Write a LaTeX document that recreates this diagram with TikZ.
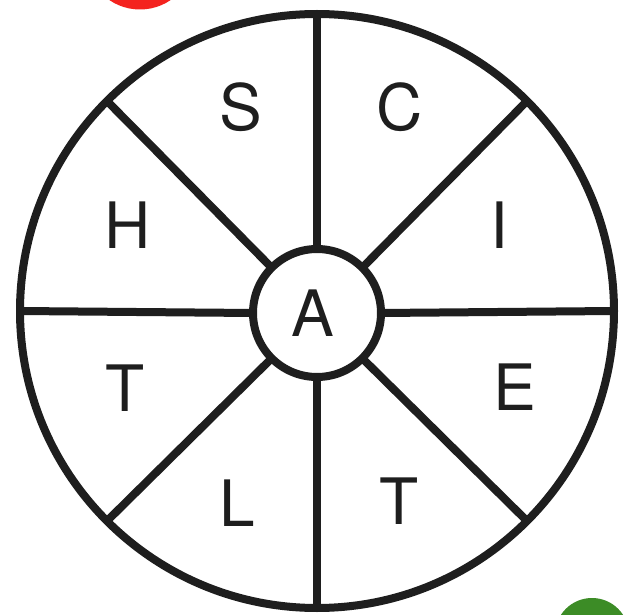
\documentclass[tikz,border=0pt]{standalone}
\usepackage{fontspec}
\setmainfont{TeX Gyre Heros}
\definecolor{wheelred}{HTML}{F4231F}
\definecolor{wheelgreen}{HTML}{3C8C26}
\definecolor{ink}{HTML}{1E1E1E}
\tikzset{
  ring/.style={circle,draw=ink,line width=8pt,inner sep=0pt,outer sep=0pt},
  spoke/.style={draw=ink,line width=8pt},
  letter/.style={inner sep=0pt,text=ink,font=\fontsize{64}{64}\selectfont},
  dot/.style={circle,inner sep=0pt,outer sep=0pt}
}
\begin{document}
\begin{tikzpicture}[x=1pt,y=-1pt]
\useasboundingbox (0,0) rectangle (630,615);
\clip (0,0) rectangle (630,615);
\fill[white] (0,0) rectangle (630,615);
\node[dot,fill=wheelred,minimum size=109pt] (red) at (140,-45) {};
\node[dot,fill=wheelgreen,minimum size=74pt] (green) at (592,635) {};
\node[ring,minimum size=594pt] (outer) at (317,311) {};
\node[ring,minimum size=128pt] (inner) at (317,313) {};
\foreach \a in {0,45,...,315}{
  \draw[spoke] (inner.\a) -- (outer.\a);
}
\node[letter] (lA) at (313,313) {A};
\node[letter] (lS) at (241,107) {S};
\node[letter] (lC) at (400,107) {C};
\node[letter] (lH) at (128,225) {H};
\node[letter] (lI) at (499,225) {I};
\node[letter] (lE) at (515,387) {E};
\node[letter] (lT1) at (125,388) {T};
\node[letter] (lL) at (237,503) {L};
\node[letter] (lT2) at (399,501) {T};
\end{tikzpicture}
\end{document}
